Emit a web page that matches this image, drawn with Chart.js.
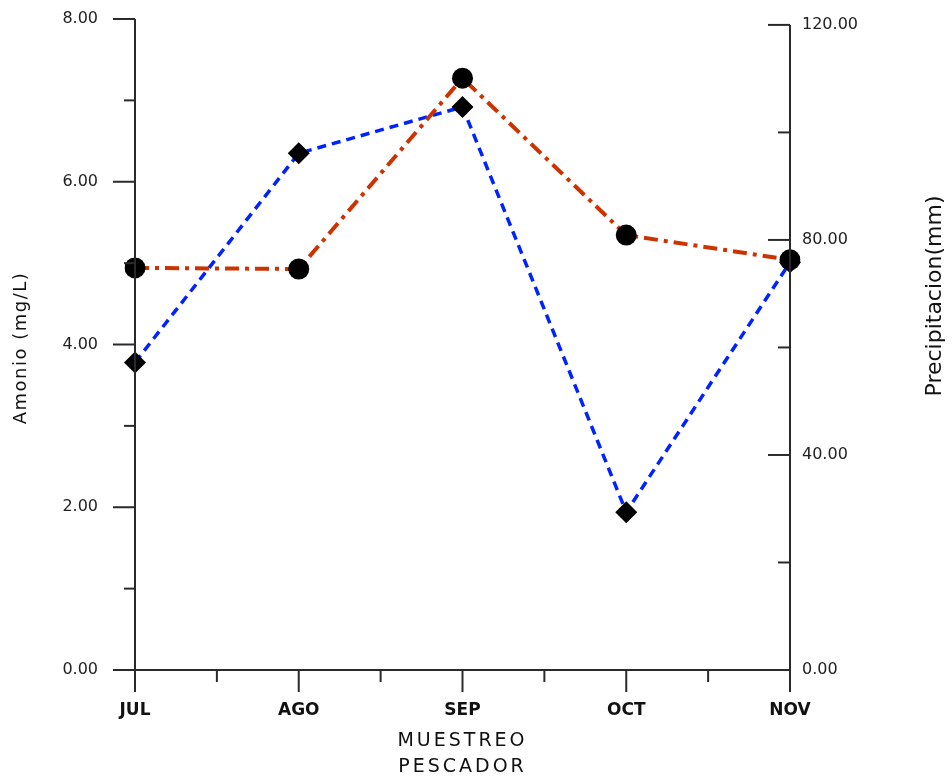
<!DOCTYPE html>
<html>
<head>
<meta charset="utf-8">
<title>Amonio vs Precipitacion</title>
<script src="https://cdn.jsdelivr.net/npm/chart.js@4.4.1/dist/chart.umd.min.js"></script>
<style>
  html, body { margin: 0; padding: 0; background: #fff; }
  #wrap { width: 952px; height: 779px; }
</style>
</head>
<body>
<div id="wrap"><canvas id="chart" width="952" height="779"></canvas></div>
<script>
/* ---- data ---- */
const MONTHS = ['JUL', 'AGO', 'SEP', 'OCT', 'NOV'];
const AMONIO = [3.78, 6.35, 6.92, 1.94, 5.01];          // mg/L, left axis
const PRECIPITACION = [74.8, 74.6, 110.1, 80.9, 76.3];  // mm, right axis
const LEFT_TICKS = [0, 1, 2, 3, 4, 5, 6, 7, 8];
const LEFT_LABELED = [0, 2, 4, 6, 8];
const RIGHT_TICKS = [0, 20, 40, 60, 80, 100, 120];
const RIGHT_LABELED = [0, 40, 80, 120];

const AXIS_COLOR = '#2a2a2a';
const TICK_FONT = { family: 'DejaVu Sans', size: 16 };

/* ---- axes, tick marks and titles drawn by hand ---- */
const axisPainter = {
  id: 'axisPainter',
  afterDraw(chart) {
    const { ctx, chartArea: a, scales } = chart;
    const x = scales.x, yl = scales.yL, yr = scales.yR;
    ctx.save();
    ctx.strokeStyle = AXIS_COLOR;
    ctx.lineWidth = 2;
    ctx.setLineDash([]);
    const line = (x1, y1, x2, y2) => {
      ctx.beginPath(); ctx.moveTo(x1, y1); ctx.lineTo(x2, y2); ctx.stroke();
    };
    // left axis
    line(a.left, a.top, a.left, a.bottom);
    LEFT_TICKS.forEach(v => {
      const py = yl.getPixelForValue(v);
      const len = LEFT_LABELED.includes(v) ? 22 : 11;
      line(a.left - len, py, a.left, py);
    });
    // bottom axis
    line(a.left, a.bottom, a.right, a.bottom);
    MONTHS.forEach((m, i) => {
      const px = x.getPixelForValue(i);
      line(px, a.bottom, px, a.bottom + 22);
      if (i < MONTHS.length - 1) {
        const mid = (px + x.getPixelForValue(i + 1)) / 2;
        line(mid, a.bottom, mid, a.bottom + 12);
      }
    });
    // right axis
    line(a.right, yr.getPixelForValue(120), a.right, a.bottom + 22);
    RIGHT_TICKS.forEach(v => {
      if (v === 0) return;
      const py = yr.getPixelForValue(v);
      const len = RIGHT_LABELED.includes(v) ? 22 : 12;
      line(a.right - len, py, a.right, py);
    });

    // titles
    ctx.fillStyle = '#111';
    ctx.textAlign = 'center';
    ctx.textBaseline = 'middle';

    ctx.save();
    ctx.translate(21, 348);
    ctx.rotate(-Math.PI / 2);
    ctx.font = '18px "DejaVu Sans"';
    ctx.letterSpacing = '1.5px';
    ctx.fillText('Amonio (mg/L)', 0, 0);
    ctx.restore();

    ctx.save();
    ctx.translate(935, 296);
    ctx.rotate(-Math.PI / 2);
    ctx.font = '22px "DejaVu Sans"';
    ctx.fillText('Precipitacion(mm)', 0, 0);
    ctx.restore();

    ctx.save();
    ctx.font = '19px "DejaVu Sans"';
    ctx.letterSpacing = '3px';
    const cx = (a.left + a.right) / 2;
    ctx.fillText('MUESTREO', cx, 741);
    ctx.fillText('PESCADOR', cx, 767);
    ctx.restore();

    ctx.restore();
  }
};

function fitY(width) {
  return s => { s.width = width; s.paddingTop = 0; s.paddingBottom = 0; };
}

new Chart(document.getElementById('chart'), {
  type: 'line',
  data: {
    labels: MONTHS,
    datasets: [
      {
        label: 'Precipitacion (mm)',
        data: PRECIPITACION,
        yAxisID: 'yR',
        borderColor: '#cc3300',
        borderWidth: 4,
        borderDash: [14, 6, 4, 6],
        pointStyle: 'circle',
        pointRadius: 10.5,
        pointBackgroundColor: '#000',
        pointBorderWidth: 0,
        tension: 0,
      },
      {
        label: 'Amonio (mg/L)',
        data: AMONIO,
        yAxisID: 'yL',
        borderColor: '#0022ff',
        borderWidth: 3.5,
        borderDash: [9, 6],
        pointStyle: 'rectRot',
        pointRadius: 11,
        pointBackgroundColor: '#000',
        pointBorderWidth: 0,
        tension: 0,
      },
    ],
  },
  options: {
    responsive: false,
    animation: false,
    layout: { padding: { top: 19 } },
    plugins: { legend: { display: false }, tooltip: { enabled: false } },
    scales: {
      x: {
        type: 'category',
        offset: false,
        grid: { display: false, drawTicks: false },
        border: { display: false },
        ticks: { color: '#111', font: { family: 'DejaVu Sans', size: 17, weight: 'bold' }, padding: 30, maxRotation: 0, autoSkip: false },
        afterFit(s) { s.height = 109; s.paddingLeft = 0; s.paddingRight = 0; },
      },
      yL: {
        position: 'left',
        min: 0, max: 8,
        grid: { display: false, drawTicks: false },
        border: { display: false },
        afterBuildTicks(s) { s.ticks = LEFT_LABELED.map(v => ({ value: v })); },
        ticks: { color: '#222', font: TICK_FONT, padding: 37, callback: v => v.toFixed(2) },
        afterFit: fitY(135),
      },
      yR: {
        position: 'right',
        min: 0, max: 121.1,
        grid: { display: false, drawTicks: false },
        border: { display: false },
        afterBuildTicks(s) { s.ticks = RIGHT_LABELED.map(v => ({ value: v })); },
        ticks: { color: '#222', font: TICK_FONT, padding: 12, callback: v => v.toFixed(2) },
        afterFit: fitY(162),
      },
    },
  },
  plugins: [axisPainter],
});
</script>
</body>
</html>
